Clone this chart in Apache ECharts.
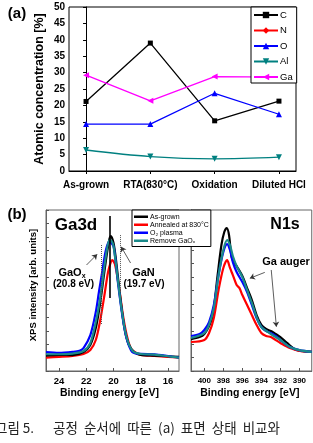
<!DOCTYPE html>
<html><head><meta charset="utf-8">
<script src="https://cdn.jsdelivr.net/npm/echarts@6/dist/echarts.min.js"></script>
<style>html,body{margin:0;padding:0;background:#fff;}#c{width:313px;height:443px;}</style>
</head><body><div id="c"></div>
<script>
// ---- Panel (a) data ----
const cats = ['As-grown', 'RTA(830°C)', 'Oxidation', 'Diluted HCl'];
const yTicksA = [0, 5, 10, 15, 20, 25, 30, 35, 40, 45, 50];
const C = [21.2, 39.0, 15.3, 21.3];
const N = [];
const O = [14.3, 14.3, 23.7, 17.3];
const Al = [6.4, 4.4, 3.7, 4.2];
const Ga = [29.2, 21.4, 28.8, 28.6];

// ---- Panel (b) data : Ga3d [eV, intensity] ----
const gaTicks = [16, 18, 20, 22, 24];
const ga3dAsGrown = [[24.95,1.15],[24,1.2],[23,1.19],[22.2,1.42],[21.7,1.94],[21.3,3.2],[21.0,4.92],[20.8,6.41],[20.5,8.64],[20.3,9.84],[20.2,10.06],[20.0,9.54],[19.8,8.12],[19.5,5.44],[19.2,3.2],[18.9,2.01],[18.5,1.42],[18,1.19],[17,1.15],[16,1.1],[15.2,1.05]];
const ga3dAnneal = [[24.95,1.0],[24,1.05],[23,1.12],[22.2,1.27],[21.7,1.56],[21.3,2.31],[21.0,3.65],[20.7,5.44],[20.4,7.38],[20.2,8.12],[20.1,8.27],[19.9,7.97],[19.6,6.26],[19.3,4.1],[19.0,2.53],[18.7,1.64],[18.3,1.34],[18,1.2],[17,1.12],[16,1.05],[15.2,1.0]];
const ga3dO2 = [[24.95,1.4],[24,1.35],[23,1.42],[22.5,1.5],[22.2,1.71],[21.7,2.68],[21.3,4.4],[21.07,5.89],[20.83,7.38],[20.59,8.87],[20.34,9.61],[20.15,9.54],[19.97,9.17],[19.68,6.63],[19.36,4.17],[19.05,2.46],[18.63,1.42],[18,1.27],[17,1.25],[16,1.12],[15.2,1.0]];
const ga3dRemove = [[24.95,1.25],[24,1.25],[23,1.3],[22.2,1.49],[21.7,2.09],[21.3,3.65],[21.0,5.29],[20.8,6.78],[20.55,8.64],[20.3,9.76],[20.15,9.7],[20.0,9.31],[19.7,6.93],[19.4,4.55],[19.05,2.53],[18.6,1.49],[18,1.27],[17,1.22],[16,1.1],[15.2,1.0]];

// ---- Panel (b) data : N1s [eV, intensity] ----
const nTicks = [390, 392, 394, 396, 398, 400];
const n1sAsGrown = [[401.4,2.38],[400.5,2.53],[400,2.76],[399.5,3.35],[399.1,4.17],[398.6,7.15],[398.2,9.39],[397.9,10.36],[397.64,10.66],[397.4,10.13],[397.1,8.42],[396.6,7.82],[396,7.08],[395.5,6.18],[395,5.29],[394.5,4.17],[394,3.43],[393.5,3.13],[393,2.98],[392.5,2.76],[392,2.53],[391.3,2.09],[390.3,1.56],[388.7,1.42]];
const n1sAnneal = [[401.4,2.16],[400,2.31],[399.5,2.83],[399,3.95],[398.5,6.04],[398,7.68],[397.6,8.27],[397.3,7.68],[397,7.15],[396.6,6.41],[396.3,6.18],[396,5.66],[395.5,4.92],[395,4.17],[394.5,3.43],[394,2.83],[393.5,2.61],[393,2.53],[392.5,2.31],[392,2.09],[391,1.71],[390,1.49],[388.7,1.42]];
const n1sO2 = [[401.4,2.61],[400.5,2.76],[400,3.06],[399.5,3.65],[399,4.92],[398.5,7.15],[398,8.87],[397.6,9.46],[397.3,9.02],[397,8.12],[396.6,7.38],[396,6.63],[395.5,5.89],[395,4.92],[394.5,3.95],[394,3.28],[393.5,2.98],[393,2.83],[392.5,2.61],[392,2.31],[391,1.79],[390,1.56],[388.7,1.42]];
const n1sRemove = [[401.4,2.46],[400,2.83],[399.5,3.43],[399,4.69],[398.5,7.15],[398,9.02],[397.6,9.76],[397.3,9.39],[397,8.57],[396.6,7.82],[396,7.0],[395.5,6.04],[395,5.07],[394.5,4.02],[394,3.28],[393,2.76],[392,2.31],[391,1.79],[390,1.56],[388.7,1.42]];

const FF = 'Arial, "Liberation Sans", sans-serif';
const chart = echarts.init(document.getElementById('c'), null, {renderer: 'canvas'});
const idx = arr => arr.map((v, i) => [i, v]);

function lineA(name, data, color, symbol, rot, smooth) {
  return {name, type: 'line', xAxisIndex: 0, yAxisIndex: 0, data: idx(data), symbol, symbolSize: symbol === 'triangle' ? 6 : 5,
    symbolRotate: rot || 0, smooth: smooth || false, color,
    lineStyle: {color, width: 1.3}, itemStyle: {color}};
}
function spec(name, data, color, gi, extra) {
  return Object.assign({name, type: 'line', xAxisIndex: gi, yAxisIndex: gi, data, symbol: 'none', smooth: 0.3, color,
    lineStyle: {color, width: 2.2}, itemStyle: {color}, z: 3}, extra || {});
}
const arrowStyle = {color: '#333', width: 0.8, type: 'solid'};
const mlBase = {silent: true, symbol: ['none', 'none'], label: {show: false}, animation: false};

const ga3dMarks = Object.assign({}, mlBase, {
  data: [
    [{coord: [20.29, 11.55], lineStyle: {color: '#000', width: 1.6, type: 'solid'}}, {coord: [20.29, 5.44]}],
    [{coord: [20.88, 9.39], lineStyle: {color: '#555', width: 1, type: 'dotted'}}, {coord: [20.88, 3.43]}],
    [{coord: [19.49, 10.13], lineStyle: {color: '#555', width: 1, type: 'dotted'}}, {coord: [19.49, 5.89]}],
    [{coord: [21.98, 7.9], lineStyle: arrowStyle, symbol: 'none'}, {coord: [21.2, 8.7], symbol: 'arrow', symbolSize: 5}],
    [{coord: [18.75, 8.05], lineStyle: arrowStyle, symbol: 'none'}, {coord: [19.44, 9.26], symbol: 'arrow', symbolSize: 5}]
  ]
});
const n1sMarks = Object.assign({}, mlBase, {
  data: [
    [{coord: [393.64, 7.35], lineStyle: arrowStyle, symbol: 'none'}, {coord: [395.21, 6.91], symbol: 'arrow', symbolSize: 5}],
    [{coord: [392.96, 7.53], lineStyle: arrowStyle, symbol: 'none'}, {coord: [392.42, 3.30], symbol: 'arrow', symbolSize: 5}]
  ]
});

const bTickStyle = {show: true, inside: true, length: 3, lineStyle: {color: '#555', width: 1}};
function txt(text, x, y, font, extra) {
  return Object.assign({type: 'text', x, y, silent: true, z: 100,
    style: {text, font, fill: '#000', align: 'center', verticalAlign: 'middle', textAlign: 'center', textVerticalAlign: 'middle'}}, extra || {});
}
const KR = '13.5px "Noto Sans CJK KR", sans-serif';

const option = {
  animation: false,
  backgroundColor: '#fff',
  textStyle: {fontFamily: FF},
  grid: [
    {left: 69, top: 7, width: 227, height: 164, show: true, borderColor: '#000', borderWidth: 1, backgroundColor: 'transparent'},
    {left: 46, top: 210, width: 133, height: 161, show: true, borderColor: '#666', borderWidth: 1, backgroundColor: 'transparent'},
    {left: 191, top: 210, width: 125.7, height: 161, show: true, borderColor: '#666', borderWidth: 1, backgroundColor: 'transparent'}
  ],
  xAxis: [
    {gridIndex: 0, type: 'value', min: -0.265, max: 3.265, splitLine: {show: false},
      axisLine: {lineStyle: {color: '#000', width: 1}},
      axisTick: {show: true, inside: false, length: 3, customValues: [0, 1, 2, 3], lineStyle: {color: '#000'}},
      axisLabel: {customValues: [0, 1, 2, 3], formatter: v => cats[Math.round(v)], fontWeight: 'bold', fontSize: 10, color: '#000', margin: 9, fontFamily: FF}},
    {gridIndex: 1, type: 'value', min: 15.2, max: 24.95, inverse: true, splitLine: {show: false},
      axisLine: {lineStyle: {color: '#666'}},
      axisTick: Object.assign({customValues: gaTicks}, bTickStyle),
      axisLabel: {customValues: gaTicks, fontWeight: 'bold', fontSize: 9.5, color: '#000', margin: 5, fontFamily: FF, showMinLabel: true, showMaxLabel: true},
      name: 'Binding energy [eV]', nameLocation: 'middle', nameGap: 17, nameTextStyle: {fontWeight: 'bold', fontSize: 10.5, color: '#000', fontFamily: FF, padding: [0, 6, 0, 0]}},
    {gridIndex: 2, type: 'value', min: 388.7, max: 401.4, inverse: true, splitLine: {show: false},
      axisLine: {lineStyle: {color: '#666'}},
      axisTick: Object.assign({customValues: nTicks}, bTickStyle),
      axisLabel: {customValues: nTicks, fontWeight: 'bold', fontSize: 8, color: '#000', margin: 6, fontFamily: FF, showMinLabel: true, showMaxLabel: true, hideOverlap: false},
      name: 'Binding energy [eV]', nameLocation: 'middle', nameGap: 17, nameTextStyle: {fontWeight: 'bold', fontSize: 10.5, color: '#000', fontFamily: FF, padding: [0, 3, 0, 0]}}
  ],
  yAxis: [
    {gridIndex: 0, type: 'value', min: 0, max: 50, interval: 5, splitLine: {show: false},
      axisLine: {show: true, lineStyle: {color: '#000', width: 1}},
      axisTick: {show: true, inside: false, length: 3, lineStyle: {color: '#000'}},
      axisLabel: {fontWeight: 'bold', fontSize: 10, color: '#000', margin: 4, fontFamily: FF}},
    {gridIndex: 1, type: 'value', min: 0, max: 12, interval: 1, splitLine: {show: false},
      axisLine: {show: true, lineStyle: {color: '#666'}}, axisTick: bTickStyle, axisLabel: {show: false}},
    {gridIndex: 2, type: 'value', min: 0, max: 12, interval: 1, splitLine: {show: false},
      axisLine: {show: true, lineStyle: {color: '#666'}}, axisTick: bTickStyle, axisLabel: {show: false}}
  ],
  legend: [
    {data: ['C', 'N', 'O', 'Al', 'Ga'], orient: 'vertical', left: 251, top: 7, backgroundColor: '#fff',
      borderColor: '#000', borderWidth: 1, borderRadius: 0, padding: [3, 4, 1, 2], itemWidth: 24, itemHeight: 8, itemGap: 5.5,
      textStyle: {fontSize: 9.5, color: '#000', fontFamily: FF, padding: [0, 0, 0, -3]}, selectedMode: false},
    {data: ['As-grown', 'Annealed at 830°C', 'O₂ plasma', 'Remove GaOₓ'], orient: 'vertical', left: 132, top: 210,
      backgroundColor: '#fff', borderColor: '#000', borderWidth: 1, borderRadius: 0, padding: [3, 2, 2, 2],
      itemWidth: 14, itemHeight: 2.5, itemGap: 0.5, icon: 'rect', z: 50,
      textStyle: {fontSize: 7, lineHeight: 7.5, color: '#000', fontFamily: FF, padding: [0, 0, 0, -3]}, selectedMode: false}
  ],
  series: [
    lineA('C', C, '#000000', 'rect'),
    lineA('N', N, '#ff0000', 'diamond'),
    lineA('O', O, '#0000ff', 'triangle'),
    lineA('Al', Al, '#008080', 'triangle', 180, 0.35),
    lineA('Ga', Ga, '#ff00ff', 'triangle', 90),
    spec('Annealed at 830°C', ga3dAnneal, '#ff0000', 1),
    spec('As-grown', ga3dAsGrown, '#000000', 1),
    spec('O₂ plasma', ga3dO2, '#0000ff', 1),
    spec('Remove GaOₓ', ga3dRemove, '#1a8a8a', 1, {markLine: ga3dMarks}),
    spec('As-grown', n1sAsGrown, '#000000', 2),
    spec('Annealed at 830°C', n1sAnneal, '#ff0000', 2),
    spec('O₂ plasma', n1sO2, '#0000ff', 2),
    spec('Remove GaOₓ', n1sRemove, '#1a8a8a', 2, {markLine: n1sMarks})
  ],
  graphic: [
    txt('(a)', 17, 14, 'bold 15px ' + FF),
    txt('Atomic concentration [%]', 40, 89, 'bold 12.5px ' + FF, {rotation: Math.PI / 2}),
    txt('(b)', 17, 215, 'bold 15px ' + FF),
    txt('XPS intensity [arb. units]', 33, 285, 'bold 9.5px ' + FF, {rotation: Math.PI / 2}),
    txt('Ga3d', 76, 225, 'bold 17px ' + FF),
    txt('N1s', 285, 225, 'bold 16px ' + FF),
    {type: 'text', x: 72, y: 273, silent: true, z: 100,
      style: {text: 'GaO{s|x}', font: 'bold 11px ' + FF, fill: '#000', align: 'center', verticalAlign: 'middle',
        rich: {s: {font: 'bold 7px ' + FF, fill: '#000', padding: [6, 0, 0, 0]}}}},
    txt('(20.8 eV)', 73.5, 284, 'bold 10px ' + FF),
    txt('GaN', 143.5, 273, 'bold 11px ' + FF),
    txt('(19.7 eV)', 144, 284, 'bold 10px ' + FF),
    txt('Ga auger', 286, 262, 'bold 11px ' + FF),
    {type: 'text', x: -5, y: 428, silent: true, style: {text: '그림 5.', font: KR, fill: '#222', verticalAlign: 'middle'}},
    {type: 'text', x: 53, y: 428, silent: true, style: {text: '공정  순서에  따른  (a)  표면  상태  비교와', font: KR, fill: '#222', verticalAlign: 'middle'}},
    {type: 'text', x: 53, y: 450, silent: true, style: {text: '(b)  Ga 3d와  N1s  binding  energy  변화', font: KR, fill: '#222', verticalAlign: 'middle'}}
  ]
};
chart.setOption(option);
</script>
</body></html>
